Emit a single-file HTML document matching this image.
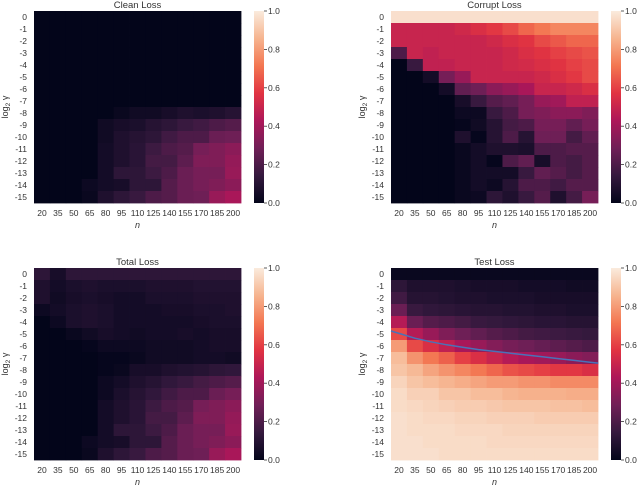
<!DOCTYPE html>
<html><head><meta charset="utf-8">
<style>
html,body{margin:0;padding:0;background:#fff;}
svg text{font-family:"Liberation Sans","DejaVu Sans",sans-serif;fill:#333;}
</style></head>
<body>
<svg id="fig" width="640" height="487" viewBox="0 0 640 487" xmlns="http://www.w3.org/2000/svg">
<defs>
<linearGradient id="rocket" x1="0" y1="1" x2="0" y2="0">
<stop offset="0" stop-color="#03051a"/>
<stop offset="0.1429" stop-color="#35193e"/>
<stop offset="0.2857" stop-color="#701f57"/>
<stop offset="0.4286" stop-color="#ad1759"/>
<stop offset="0.5714" stop-color="#e13342"/>
<stop offset="0.7143" stop-color="#f37651"/>
<stop offset="0.8571" stop-color="#f6b48f"/>
<stop offset="1" stop-color="#faebdd"/>
</linearGradient>
</defs>
</svg>
<script>
const nLabels=["20","35","50","65","80","95","110","125","140","155","170","185","200"];
const gammaLabels=["0","-1","-2","-3","-4","-5","-6","-7","-8","-9","-10","-11","-12","-13","-14","-15"];
const cbTicks=[0,0.2,0.4,0.6,0.8,1.0];
const Z=[0,0,0,0,0,0,0,0,0,0,0,0,0];
const cleanLoss=[Z,Z,Z,Z,Z,Z,Z,Z,
[0,0,0,0,0,0.02,0.04,0.04,0.06,0.08,0.07,0.08,0.1],
[0,0,0,0,0.04,0.06,0.07,0.1,0.12,0.15,0.17,0.2,0.22],
[0,0,0,0,0.04,0.08,0.1,0.12,0.17,0.2,0.2,0.27,0.28],
[0,0,0,0,0.05,0.08,0.11,0.16,0.2,0.22,0.3,0.32,0.35],
[0,0,0,0,0.05,0.08,0.11,0.18,0.18,0.24,0.32,0.32,0.37],
[0,0,0,0,0.05,0.12,0.12,0.16,0.2,0.27,0.3,0.3,0.38],
[0,0,0,0.03,0.05,0.06,0.12,0.12,0.22,0.27,0.3,0.32,0.35],
[0,0,0,0.02,0.08,0.12,0.15,0.2,0.22,0.27,0.28,0.38,0.42]];
const corruptLoss=[
[0.97,0.97,0.97,0.97,0.97,0.97,0.97,0.97,0.97,0.97,0.97,0.97,0.97],
[0.5,0.5,0.5,0.5,0.52,0.55,0.58,0.62,0.68,0.72,0.75,0.75,0.75],
[0.5,0.5,0.5,0.5,0.5,0.5,0.52,0.55,0.57,0.62,0.65,0.68,0.68],
[0.2,0.5,0.48,0.5,0.5,0.5,0.5,0.52,0.55,0.57,0.6,0.62,0.64],
[0,0.15,0.48,0.48,0.5,0.5,0.5,0.52,0.53,0.55,0.57,0.6,0.62],
[0,0,0.05,0.3,0.38,0.5,0.5,0.5,0.5,0.52,0.55,0.58,0.62],
[0,0,0,0.05,0.25,0.28,0.35,0.38,0.42,0.5,0.5,0.52,0.55],
[0,0,0,0,0.06,0.15,0.22,0.25,0.3,0.38,0.4,0.48,0.48],
[0,0,0,0,0.03,0.03,0.15,0.2,0.3,0.32,0.35,0.35,0.32],
[0,0,0,0,0.01,0.04,0.1,0.18,0.2,0.3,0.3,0.25,0.3],
[0,0,0,0,0.08,0.01,0.1,0.2,0.1,0.28,0.28,0.18,0.25],
[0,0,0,0,0.02,0.05,0.08,0.08,0.07,0.2,0.2,0.22,0.22],
[0,0,0,0,0.02,0.05,0.01,0.2,0.25,0.06,0.2,0.18,0.22],
[0,0,0,0,0.02,0.05,0.05,0.05,0.15,0.25,0.22,0.18,0.22],
[0,0,0,0,0.02,0.05,0.03,0.1,0.2,0.2,0.17,0.22,0.22],
[0,0,0,0,0.02,0.03,0.12,0.08,0.15,0.22,0.08,0.18,0.3]];
const totalLoss=[
[0.12,0.06,0.12,0.12,0.12,0.12,0.12,0.12,0.12,0.12,0.12,0.12,0.12],
[0.08,0.05,0.07,0.08,0.07,0.07,0.07,0.08,0.08,0.08,0.09,0.09,0.09],
[0.08,0.04,0.06,0.07,0.06,0.05,0.05,0.07,0.07,0.07,0.08,0.08,0.08],
[0.03,0.05,0.07,0.08,0.07,0.05,0.05,0.05,0.06,0.06,0.07,0.07,0.08],
[0,0.03,0.07,0.08,0.07,0.05,0.05,0.05,0.05,0.05,0.06,0.07,0.07],
[0,0,0.02,0.04,0.06,0.05,0.04,0.05,0.05,0.06,0.05,0.06,0.06],
[0,0,0,0.01,0.03,0.03,0.03,0.04,0.04,0.04,0.05,0.06,0.06],
[0,0,0,0,0.01,0.01,0.02,0.04,0.04,0.04,0.05,0.05,0.04],
[0,0,0,0,0.01,0.02,0.06,0.06,0.08,0.09,0.1,0.12,0.13],
[0,0,0,0,0.03,0.05,0.08,0.1,0.13,0.15,0.18,0.2,0.22],
[0,0,0,0,0.03,0.07,0.1,0.13,0.17,0.2,0.2,0.27,0.3],
[0,0,0,0,0.05,0.08,0.11,0.16,0.2,0.22,0.3,0.32,0.35],
[0,0,0,0,0.05,0.08,0.11,0.18,0.18,0.24,0.32,0.32,0.37],
[0,0,0,0,0.05,0.12,0.12,0.16,0.2,0.27,0.3,0.3,0.38],
[0,0,0,0.03,0.05,0.06,0.12,0.12,0.22,0.27,0.3,0.32,0.35],
[0,0,0,0.02,0.08,0.12,0.15,0.2,0.22,0.27,0.28,0.38,0.42]];
const testLoss=[
[0.02,0.02,0.02,0.02,0.02,0.02,0.02,0.02,0.02,0.02,0.02,0.02,0.02],
[0.12,0.08,0.08,0.08,0.07,0.06,0.06,0.06,0.05,0.05,0.05,0.04,0.04],
[0.17,0.1,0.1,0.09,0.08,0.08,0.07,0.07,0.07,0.06,0.06,0.06,0.06],
[0.27,0.15,0.13,0.12,0.11,0.1,0.1,0.09,0.09,0.08,0.08,0.07,0.07],
[0.45,0.27,0.22,0.2,0.18,0.15,0.14,0.13,0.12,0.11,0.11,0.1,0.1],
[0.62,0.45,0.38,0.32,0.28,0.25,0.22,0.2,0.18,0.17,0.16,0.15,0.14],
[0.8,0.62,0.55,0.48,0.42,0.38,0.33,0.3,0.28,0.26,0.24,0.22,0.2],
[0.88,0.78,0.72,0.67,0.6,0.55,0.5,0.45,0.42,0.4,0.38,0.35,0.33],
[0.9,0.87,0.82,0.78,0.75,0.72,0.68,0.64,0.62,0.6,0.58,0.58,0.55],
[0.94,0.9,0.88,0.86,0.84,0.82,0.8,0.8,0.78,0.78,0.76,0.76,0.76],
[0.96,0.93,0.93,0.9,0.9,0.88,0.88,0.86,0.85,0.85,0.85,0.84,0.84],
[0.96,0.95,0.94,0.93,0.92,0.92,0.91,0.9,0.9,0.9,0.89,0.89,0.88],
[0.97,0.96,0.95,0.95,0.94,0.94,0.93,0.93,0.93,0.92,0.92,0.92,0.92],
[0.97,0.96,0.96,0.96,0.95,0.95,0.95,0.94,0.94,0.94,0.94,0.94,0.94],
[0.97,0.97,0.96,0.96,0.96,0.96,0.95,0.95,0.95,0.95,0.95,0.95,0.95],
[0.97,0.97,0.97,0.96,0.96,0.96,0.96,0.96,0.96,0.96,0.96,0.96,0.96]];
// boundary curve in log2(gamma) units, one per n
const boundaryLog2Gamma=[-4.95,-5.35,-5.65,-5.9,-6.1,-6.3,-6.45,-6.6,-6.75,-6.9,-7.05,-7.2,-7.35];

const stops=[[0,[3,5,26]],[0.1429,[53,25,62]],[0.2857,[112,31,87]],[0.4286,[173,23,89]],[0.5714,[225,51,66]],[0.7143,[243,118,81]],[0.8571,[246,180,143]],[1,[250,235,221]]];
function cmap(v){v=Math.max(0,Math.min(1,v));for(let i=1;i<stops.length;i++){if(v<=stops[i][0]){const a=stops[i-1],b=stops[i];const t=(v-a[0])/(b[0]-a[0]);const c=a[1].map((x,k)=>Math.round(x+(b[1][k]-x)*t));return `rgb(${c[0]},${c[1]},${c[2]})`;}}return 'rgb(250,235,221)';}
const NS="http://www.w3.org/2000/svg";
const svg=document.getElementById('fig');
function el(tag,attrs,parent){const e=document.createElementNS(NS,tag);for(const k in attrs)e.setAttribute(k,attrs[k]);(parent||svg).appendChild(e);return e;}
function txt(s,attrs,parent){const e=el('text',attrs,parent);e.textContent=s;return e;}

const panels=[
{title:"Clean Loss",data:cleanLoss,x:34,y:11,slug:"clean-loss"},
{title:"Corrupt Loss",data:corruptLoss,x:391,y:11,slug:"corrupt-loss"},
{title:"Total Loss",data:totalLoss,x:34,y:268,slug:"total-loss"},
{title:"Test Loss",data:testLoss,x:391,y:268,slug:"test-loss",line:boundaryLog2Gamma}];
const W=207,H=192;
panels.forEach(p=>{
  const g=el('g',{});
  
  
  const cw=W/nLabels.length, ch=H/gammaLabels.length;
  const xs=i=>p.x+i*cw, ys=j=>p.y+j*ch;
  const yOfLog=v=>p.y+(-v)*ch+ch/2;
  p.data.forEach((row,j)=>row.forEach((v,i)=>{
    const r=el('rect',{x:xs(i),y:ys(j),width:cw+0.4,height:ch+0.4,fill:cmap(v)},g);
    
    
  }));
  const t=txt(p.title,{x:p.x+W/2,y:p.y-3,'text-anchor':'middle','font-size':9.5},g);
  
  
  gammaLabels.forEach((s,j)=>{
    const l=txt(s,{x:p.x-7,y:ys(j)+ch/2+3.2,'text-anchor':'end','font-size':8.5},g);
    
    
  });
  nLabels.forEach((s,i)=>{
    const l=txt(s,{x:xs(i)+cw/2,y:p.y+H+13,'text-anchor':'middle','font-size':8.5},g);
    
    
  });
  const xt=txt('n',{x:p.x+W/2,y:p.y+H+25,'text-anchor':'middle','font-size':9,'font-style':'italic'},g);
  
  
  const cx=p.x-26, cy=p.y+H/2;
  const yt=el('text',{x:cx,y:cy,'text-anchor':'middle','font-size':9,transform:`rotate(-90 ${cx} ${cy})`},g);
  yt.innerHTML='log<tspan font-size="6.5" dy="2">2</tspan><tspan dy="-2"> γ</tspan>';
  
  
  const bx=p.x+220;
  const cb=el('rect',{x:bx,y:p.y,width:10,height:H,fill:'url(#rocket)'},g);
  
  
  cbTicks.forEach(v=>{
    const yy=p.y+H-v*H;
    el('line',{x1:bx+10,x2:bx+13,y1:yy,y2:yy,stroke:'#333','stroke-width':0.8},g);
    const l=txt(v.toFixed(1),{x:bx+14,y:yy+3,'font-size':8.5},g);
    
    
  });
  if(p.line){
    const pts=p.line.map((v,i)=>`${xs(i)+cw/2},${yOfLog(v)}`);
    const slope0=(yOfLog(p.line[1])-yOfLog(p.line[0]));
    const n=p.line.length;
    const slopeN=(yOfLog(p.line[n-1])-yOfLog(p.line[n-2]));
    pts.unshift(`${p.x},${yOfLog(p.line[0])-slope0/2}`);
    pts.push(`${p.x+W},${yOfLog(p.line[n-1])+slopeN/2}`);
    const pl=el('polyline',{points:pts.join(' '),fill:'none',stroke:'#4a72b8','stroke-width':1.5},g);
    
    
  }
});
</script>
</body></html>
